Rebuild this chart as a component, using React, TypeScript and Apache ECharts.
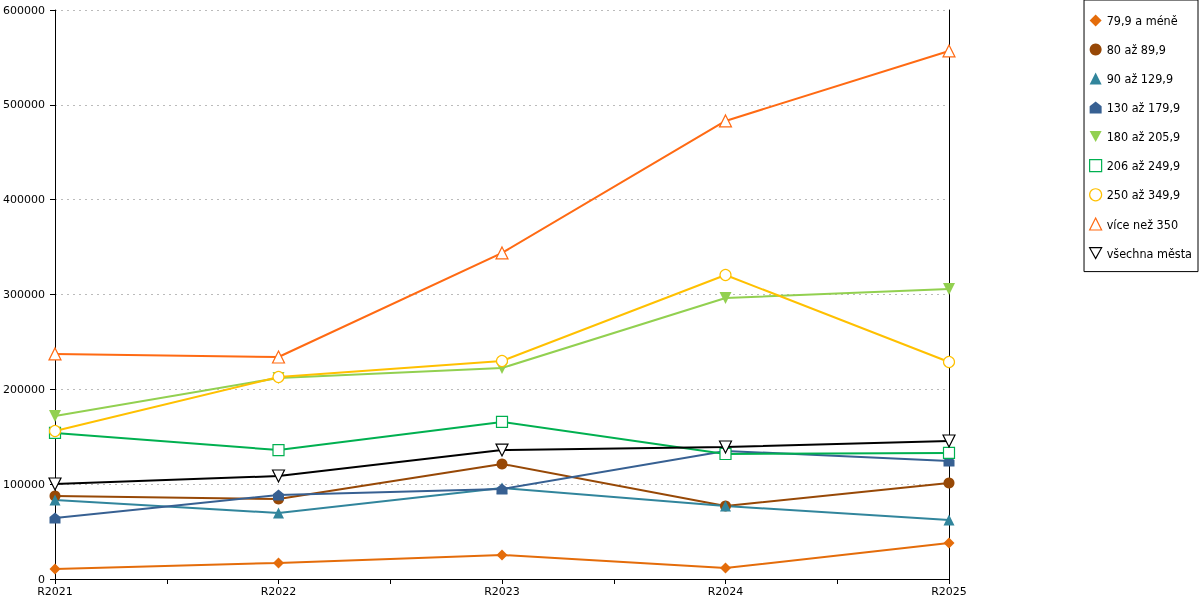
import React, { useEffect, useRef } from "react";
import * as echarts from "echarts";

const categories = ["R2021", "R2022", "R2023", "R2024", "R2025"];
const yTicks = { min: 0, max: 600000, interval: 100000 };

const s79 = [10500, 17000, 25300, 11600, 38000];
const s80 = [87500, 84400, 121300, 77000, 101200];
const s90 = [83300, 69600, 96000, 77000, 62200];
const s130 = [64300, 88600, 94900, 135000, 124400];
const s180 = [171900, 212000, 222500, 296300, 305800];
const s206 = [154000, 136000, 165600, 131800, 132900];
const s250 = [156100, 213000, 229900, 320600, 228800];
const s350 = [237300, 234100, 343800, 483000, 556800];
const sAll = [100200, 108600, 136000, 139200, 145500];

const names = [
  "79,9 a méně",
  "80 až 89,9",
  "90 až 129,9",
  "130 až 179,9",
  "180 až 205,9",
  "206 až 249,9",
  "250 až 349,9",
  "více než 350",
  "všechna města",
];

const HOUSE = "path://M0,4 L5,0 L10,4 L10,10 L0,10 Z";
const INV_TRI = "path://M0,0 L10,0 L5,9 Z";

type Spec = {
  data: number[];
  color: string;
  symbol: string;
  size: number;
  empty?: boolean;
};

const specs: Spec[] = [
  { data: s79, color: "#E46C0A", symbol: "diamond", size: 11 },
  { data: s80, color: "#974806", symbol: "circle", size: 11 },
  { data: s90, color: "#31859C", symbol: "triangle", size: 11 },
  { data: s130, color: "#376092", symbol: HOUSE, size: 11 },
  { data: s180, color: "#92D050", symbol: INV_TRI, size: 12 },
  { data: s206, color: "#00B050", symbol: "rect", size: 11, empty: true },
  { data: s250, color: "#FFC000", symbol: "circle", size: 11, empty: true },
  { data: s350, color: "#FF6A13", symbol: "triangle", size: 12, empty: true },
  { data: sAll, color: "#000000", symbol: INV_TRI, size: 12, empty: true },
];

const FONT = "DejaVu Sans";
const LEGEND_FONT = "'DejaVu Sans Condensed', 'DejaVu Sans'";

export default function App() {
  const ref = useRef<HTMLDivElement>(null);
  useEffect(() => {
    if (!ref.current) return;
    const chart = echarts.init(ref.current, undefined, { renderer: "svg" });
    const itemStyleOf = (s: Spec) =>
      s.empty
        ? { color: "#ffffff", borderColor: s.color, borderWidth: 1.2 }
        : { color: s.color, borderColor: s.color, borderWidth: 0 };
    chart.setOption({
      animation: false,
      textStyle: { fontFamily: FONT },
      grid: { left: 55, right: 251, top: 10, bottom: 21, containLabel: false },
      legend: {
        orient: "vertical",
        right: 2,
        top: 0,
        padding: [14, 6, 12, 5],
        itemGap: 16,
        itemWidth: 12,
        itemHeight: 12,
        borderColor: "#000",
        borderWidth: 1,
        textStyle: { fontFamily: LEGEND_FONT, fontSize: 12.5, color: "#000" },
        data: names.map((n, i) => ({
          name: n,
          icon: specs[i].symbol,
          itemStyle: itemStyleOf(specs[i]),
        })),
      },
      xAxis: {
        type: "value",
        min: 0,
        max: categories.length - 1,
        interval: 0.5,
        axisLine: { show: true, lineStyle: { color: "#000", width: 1 } },
        axisTick: { show: true, length: 5, lineStyle: { color: "#000" } },
        axisLabel: {
          color: "#000",
          fontSize: 11,
          fontFamily: FONT,
          margin: 7,
          showMaxLabel: true,
          showMinLabel: true,
          formatter: (v: number) =>
            Number.isInteger(v) ? categories[v] ?? "" : "",
        },
        splitLine: { show: false },
      },
      yAxis: [
        {
          type: "value",
          min: yTicks.min,
          max: yTicks.max,
          interval: yTicks.interval,
          axisLine: { show: true, lineStyle: { color: "#000", width: 1 } },
          axisTick: { show: true, length: 5, lineStyle: { color: "#000" } },
          axisLabel: {
            color: "#000",
            fontSize: 11,
            fontFamily: FONT,
            margin: 10,
            formatter: (v: number) => String(v),
          },
          splitLine: {
            show: true,
            lineStyle: { color: "#bbbbbb", type: [2, 4], width: 1 },
          },
        },
        {
          type: "value",
          position: "right",
          min: yTicks.min,
          max: yTicks.max,
          interval: yTicks.interval,
          axisLine: { show: true, lineStyle: { color: "#000", width: 1 } },
          axisTick: { show: false },
          axisLabel: { show: false },
          splitLine: { show: false },
        },
      ],
      series: specs.map((s, i) => ({
        name: names[i],
        type: "line",
        yAxisIndex: 0,
        data: s.data.map((v, k) => [k, v]),
        symbol: s.symbol,
        symbolSize: s.size,
        showAllSymbol: true,
        lineStyle: { color: s.color, width: 2 },
        itemStyle: itemStyleOf(s),
        emphasis: { disabled: true },
      })),
    });
    return () => chart.dispose();
  }, []);
  return (
    <div
      ref={ref}
      style={{ position: "fixed", left: 0, top: 0, width: 1200, height: 600 }}
    />
  );
}
